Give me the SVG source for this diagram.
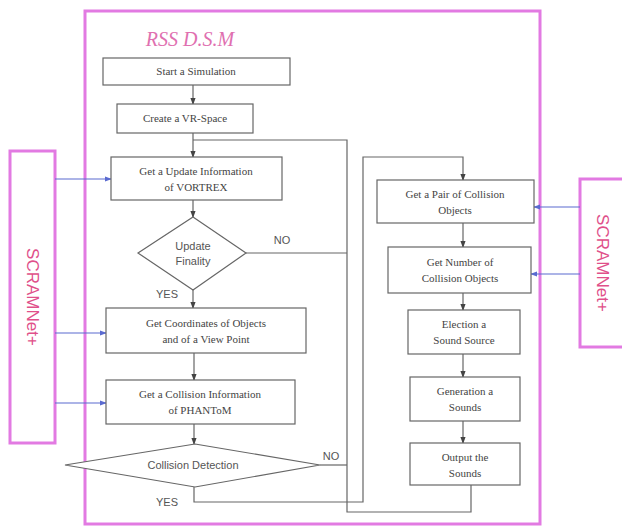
<svg xmlns="http://www.w3.org/2000/svg" width="622" height="529" viewBox="0 0 622 529">
<defs>
<style>
.box{fill:#fff;stroke:#666;stroke-width:1.2}
.t{font-family:"Liberation Serif",serif;font-size:11px;fill:#444;text-anchor:middle}
.s{font-family:"Liberation Sans",sans-serif;font-size:11px;fill:#555;text-anchor:middle}
.c{fill:none;stroke:#666;stroke-width:1.2}
.b{fill:none;stroke:#5a6ad0;stroke-width:1.2}
.m{fill:none;stroke:#e27ae2;stroke-width:3}
.sc{font-family:"Liberation Sans",sans-serif;font-size:17px;fill:#e0508a;text-anchor:middle}
</style>
<marker id="a" viewBox="0 0 8 8" refX="7" refY="4" markerWidth="6" markerHeight="6" orient="auto"><path d="M0,1 L8,4 L0,7 z" fill="#444"/></marker>
<marker id="ab" viewBox="0 0 8 8" refX="7" refY="4" markerWidth="6" markerHeight="6" orient="auto"><path d="M0,1 L8,4 L0,7 z" fill="#5a6ad0"/></marker>
</defs>
<g id="frame">
<rect class="m" x="85" y="11" width="455" height="513"/>
<text x="190" y="46" font-family="Liberation Serif,serif" font-style="italic" font-size="20" fill="#e070b0" text-anchor="middle">RSS D.S.M</text>
</g>
<g id="scram-left"><rect class="m" x="10" y="151" width="45" height="292" stroke-width="2.5"/><text class="sc" transform="translate(27,297) rotate(90)">SCRAMNet+</text></g>
<g id="scram-right"><rect class="m" x="580" y="179" width="44" height="168" stroke-width="2.5"/><text class="sc" transform="translate(597,263) rotate(90)">SCRAMNet+</text></g>
<g id="connectors">
<path class="c" d="M193 85 V104" marker-end="url(#a)"/>
<path class="c" d="M193 133 V157" marker-end="url(#a)"/>
<path class="c" d="M193 200 V217" marker-end="url(#a)"/>
<path class="c" d="M193 290 V308" marker-end="url(#a)"/>
<path class="c" d="M194 353 V380" marker-end="url(#a)"/>
<path class="c" d="M194 424 V444" marker-end="url(#a)"/>
<path class="c" d="M471 485 V512 H347 V140 H193"/>
<path class="c" d="M246 253 H347"/>
<path class="c" d="M320 465 H347"/>
<path class="c" d="M194 487 V502 H363 V157 H463 V180" marker-end="url(#a)"/>
<path class="c" d="M463 223 V247" marker-end="url(#a)"/>
<path class="c" d="M463 293 V310" marker-end="url(#a)"/>
<path class="c" d="M463 354 V377" marker-end="url(#a)"/>
<path class="c" d="M463 421 V443" marker-end="url(#a)"/>
<path class="b" d="M55 179 H111" marker-end="url(#ab)"/>
<path class="b" d="M55 333 H106" marker-end="url(#ab)"/>
<path class="b" d="M55 403 H106" marker-end="url(#ab)"/>
<path class="b" d="M580 207 H534" marker-end="url(#ab)"/>
<path class="b" d="M580 274 H531" marker-end="url(#ab)"/>
<text class="s" x="282" y="244">NO</text>
<text class="s" x="167" y="298">YES</text>
<text class="s" x="331" y="460">NO</text>
<text class="s" x="167" y="506">YES</text>
</g>
<g id="n1"><rect class="box" x="103" y="58" width="187" height="27"/><text class="t" x="196" y="75">Start a Simulation</text></g>
<g id="n2"><rect class="box" x="117" y="104" width="136" height="29"/><text class="t" x="185" y="122">Create a VR-Space</text></g>
<g id="n3"><rect class="box" x="111" y="157" width="171" height="43"/><text class="t" x="196" y="175">Get a Update Information</text><text class="t" x="196" y="191">of VORTREX</text></g>
<g id="n4"><path class="box" d="M193 217 L246 253 L193 290 L138 253 Z"/><text class="s" x="193" y="250">Update</text><text class="s" x="193" y="265">Finality</text></g>
<g id="n5"><rect class="box" x="106" y="308" width="200" height="45"/><text class="t" x="206" y="327">Get Coordinates of Objects</text><text class="t" x="206" y="343">and of a View Point</text></g>
<g id="n6"><rect class="box" x="106" y="380" width="189" height="44"/><text class="t" x="200" y="398">Get a Collision Information</text><text class="t" x="200" y="414">of PHANToM</text></g>
<g id="n7"><path class="box" d="M195 444 L320 465 L195 487 L65 465 Z"/><text class="s" x="193" y="469">Collision Detection</text></g>
<g id="r1"><rect class="box" x="377" y="180" width="157" height="43"/><text class="t" x="455" y="198">Get a Pair of Collision</text><text class="t" x="455" y="214">Objects</text></g>
<g id="r2"><rect class="box" x="388" y="247" width="143" height="46"/><text class="t" x="460" y="266">Get Number of</text><text class="t" x="460" y="282">Collision Objects</text></g>
<g id="r3"><rect class="box" x="408" y="310" width="112" height="44"/><text class="t" x="464" y="328">Election a</text><text class="t" x="464" y="344">Sound Source</text></g>
<g id="r4"><rect class="box" x="410" y="377" width="110" height="44"/><text class="t" x="465" y="395">Generation a</text><text class="t" x="465" y="411">Sounds</text></g>
<g id="r5"><rect class="box" x="410" y="443" width="110" height="42"/><text class="t" x="465" y="461">Output the</text><text class="t" x="465" y="477">Sounds</text></g>
</svg>
